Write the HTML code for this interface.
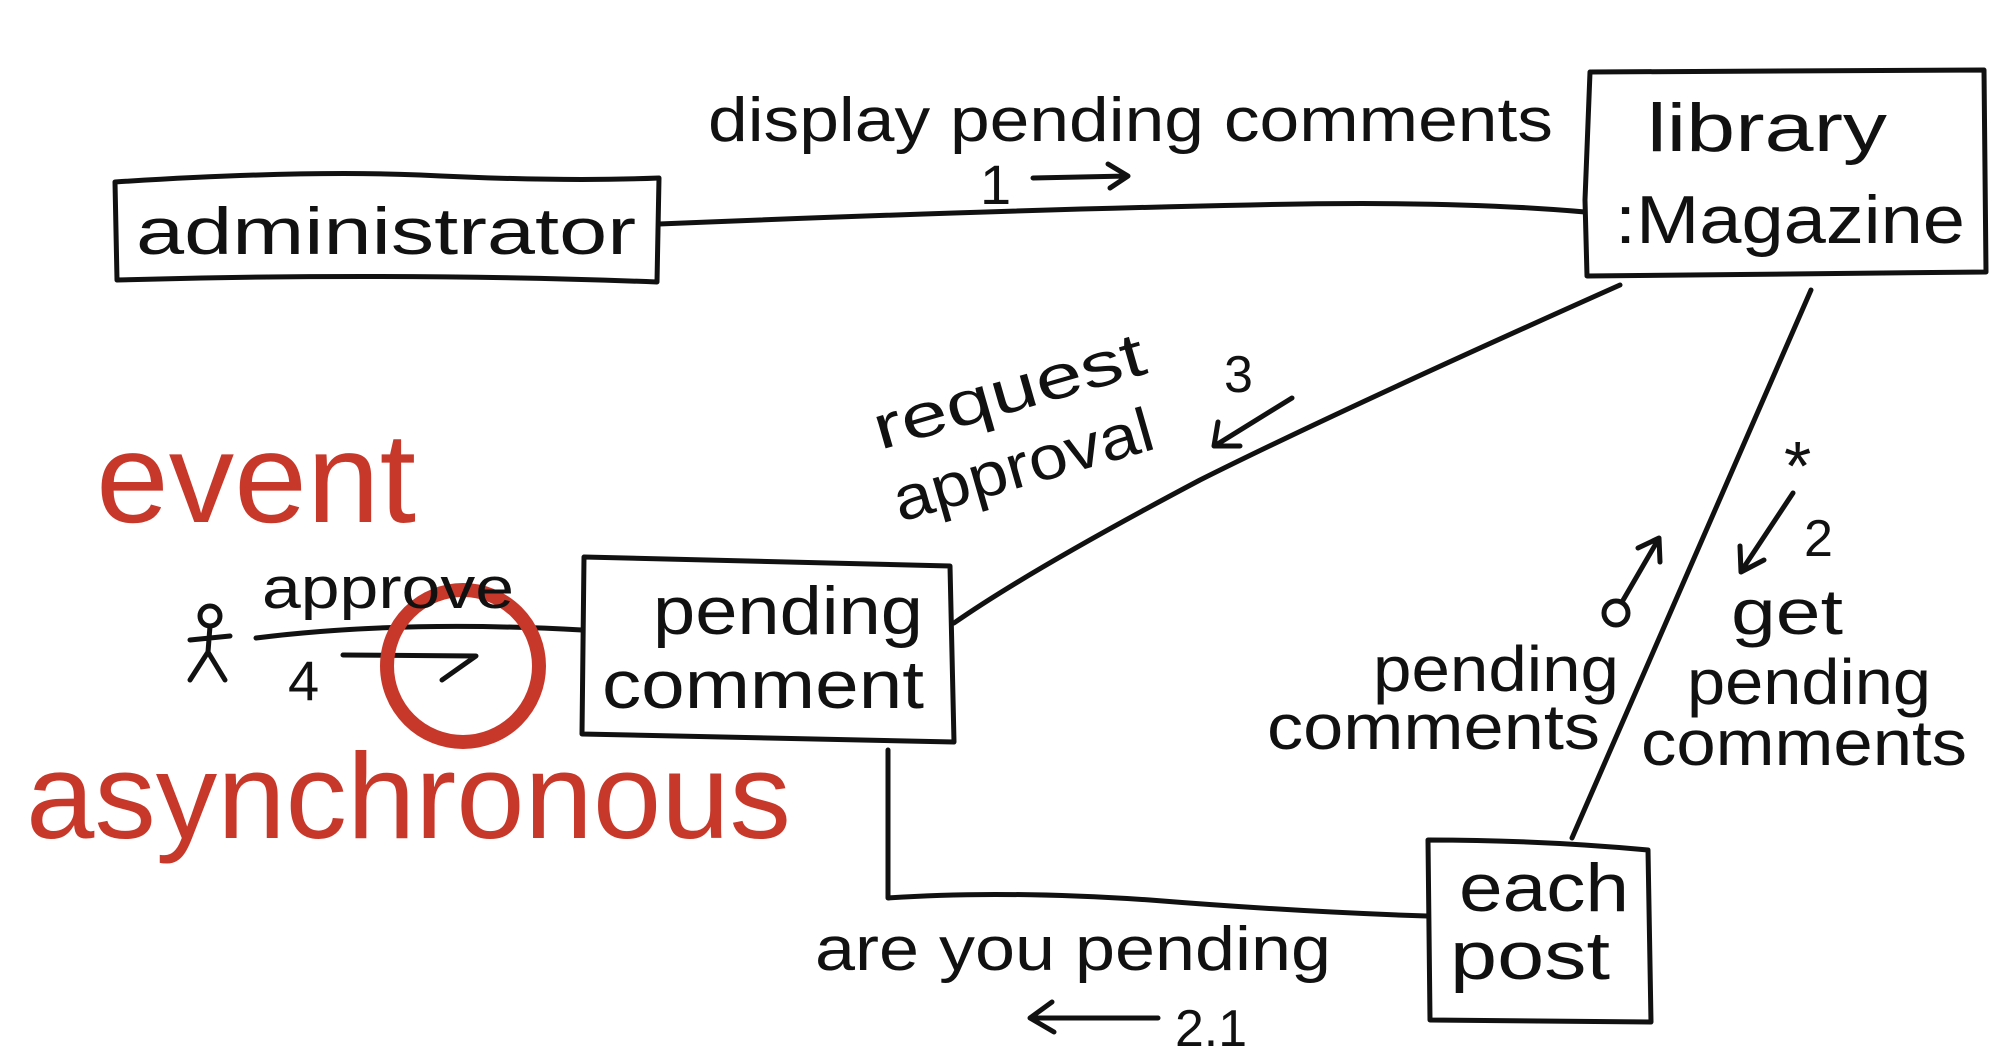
<!DOCTYPE html>
<html><head><meta charset="utf-8"><style>
html,body{margin:0;padding:0;background:#fff;}
svg{display:block}
text{font-family:"Liberation Sans","DejaVu Sans",sans-serif;fill:#111}
</style></head><body>
<svg width="2008" height="1060" viewBox="0 0 2008 1060" xmlns="http://www.w3.org/2000/svg">
<g fill="none" stroke="#111" stroke-width="5" stroke-linecap="round" stroke-linejoin="round">
<path d="M115,182 Q300,170 420,175 Q560,182 659,178 L657,282 Q400,272 117,280 Z"/>
<path d="M1590,72 L1984,70 L1986,272 L1587,276 L1585,200 Z"/>
<path d="M584,557 Q760,562 950,566 L954,742 Q760,737 582,734 Z"/>
<path d="M1428,840 Q1540,840 1648,850 L1651,1022 L1430,1020 Z"/>
<path d="M659,224 Q1000,210 1250,205 Q1450,200 1585,212"/>
<path d="M1620,285 Q1340,410 1200,480 Q1030,570 954,623"/>
<path d="M1811,290 L1572,838"/>
<path d="M888,750 L888,898 Q1000,890 1150,900 Q1300,912 1427,916"/>
<path d="M256,638 Q400,620 582,630"/>
<circle cx="210" cy="616" r="10"/>
<path d="M210,626 L208,652 M190,640 L230,636 M208,652 L190,680 M208,652 L225,680"/>
<path d="M1033,178 L1128,176 M1108,164 L1128,176 L1110,188"/>
<path d="M1292,398 L1216,445 M1218,422 L1214,446 L1240,446"/>
<path d="M343,655 L476,656 L442,680"/>
<path d="M1793,493 L1742,570 M1740,546 L1741,572 L1764,560"/>
<circle cx="1616" cy="613" r="12"/>
<path d="M1622,602 L1658,540 M1638,548 L1659,538 L1660,562"/>
<path d="M1158,1018 L1032,1018 M1052,1002 L1030,1018 L1054,1032"/>
</g>
<circle cx="463" cy="666" r="76" fill="none" stroke="#c8382a" stroke-width="14"/>
<text x="96" y="522" font-size="128" style="fill:#c8382a" textLength="320" lengthAdjust="spacingAndGlyphs">event</text>
<text x="26" y="838" font-size="122" style="fill:#c8382a" textLength="765" lengthAdjust="spacingAndGlyphs">asynchronous</text>
<text x="136" y="254" font-size="66" textLength="500" lengthAdjust="spacingAndGlyphs">administrator</text>
<text x="708" y="141" font-size="62" textLength="845" lengthAdjust="spacingAndGlyphs">display pending comments</text>
<text x="980" y="204" font-size="56">1</text>
<text x="1647" y="151" font-size="68" textLength="240" lengthAdjust="spacingAndGlyphs">library</text>
<text x="1615" y="243" font-size="68" textLength="350" lengthAdjust="spacingAndGlyphs">:Magazine</text>
<text transform="translate(880,450) rotate(-16)" font-size="62" textLength="280" lengthAdjust="spacingAndGlyphs">request</text>
<text x="1224" y="392" font-size="52">3</text>
<text transform="translate(900,522) rotate(-16)" font-size="62" textLength="268" lengthAdjust="spacingAndGlyphs">approval</text>
<text x="262" y="608" font-size="58" textLength="252" lengthAdjust="spacingAndGlyphs">approve</text>
<text x="288" y="700" font-size="56">4</text>
<text x="653" y="634" font-size="68" textLength="270" lengthAdjust="spacingAndGlyphs">pending</text>
<text x="602" y="708" font-size="68" textLength="322" lengthAdjust="spacingAndGlyphs">comment</text>
<text x="1784" y="490" font-size="70">*</text>
<text x="1804" y="556" font-size="52">2</text>
<text x="1731" y="634" font-size="64" textLength="112" lengthAdjust="spacingAndGlyphs">get</text>
<text x="1687" y="704" font-size="64" textLength="244" lengthAdjust="spacingAndGlyphs">pending</text>
<text x="1641" y="765" font-size="64" textLength="326" lengthAdjust="spacingAndGlyphs">comments</text>
<text x="1373" y="691" font-size="64" textLength="246" lengthAdjust="spacingAndGlyphs">pending</text>
<text x="1267" y="749" font-size="64" textLength="333" lengthAdjust="spacingAndGlyphs">comments</text>
<text x="1459" y="911" font-size="68" textLength="170" lengthAdjust="spacingAndGlyphs">each</text>
<text x="1450" y="979" font-size="68" textLength="160" lengthAdjust="spacingAndGlyphs">post</text>
<text x="815" y="970" font-size="62" textLength="516" lengthAdjust="spacingAndGlyphs">are you pending</text>
<text x="1175" y="1046" font-size="52" textLength="72" lengthAdjust="spacingAndGlyphs">2.1</text>
</svg>
</body></html>
